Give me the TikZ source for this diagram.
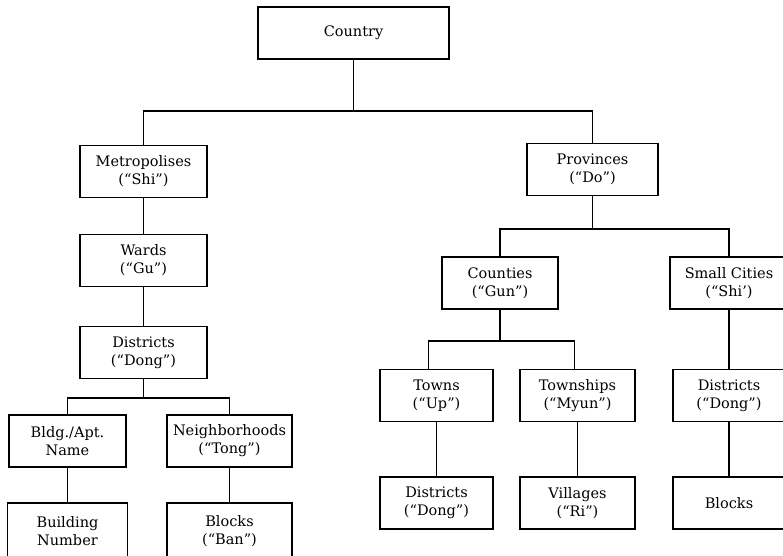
\documentclass[tikz,border=0pt]{standalone}
\usepackage{fontspec}
\setmainfont{DejaVu Serif}
\begin{document}
\begin{tikzpicture}[x=1pt,y=-1pt,
   unit/.style={draw, line width=1.3pt, align=center, inner sep=0pt,
     minimum height=52pt, font=\fontsize{14.5}{18}\selectfont},
   link/.style={line width=1.3pt}]
   \useasboundingbox (0,0) rectangle (783,555);
   \clip (0,0) rectangle (783,555);

   % left branch
   \node[unit, minimum width=191pt] (country) at (353.5,33) {Country};
   \node[unit, minimum width=127pt] (metro) at (143.5,171.5) {Metropolises\\(“Shi”)};
   \node[unit, minimum width=127pt] (wards) at (143.5,260.5) {Wards\\(“Gu”)};
   \node[unit, minimum width=127pt] (distL) at (143.5,352.5) {Districts\\(“Dong”)};
   \node[unit, minimum width=117pt] (bldg) at (67.5,441) {Bldg./Apt.\\Name};
   \node[unit, minimum width=125pt] (neigh) at (229.5,441) {Neighborhoods\\(“Tong”)};
   \node[unit, minimum width=120pt, minimum height=56pt] (bnum) at (67.5,531) {Building\\Number};
   \node[unit, minimum width=125pt, minimum height=56pt] (ban) at (229.5,531) {Blocks\\(“Ban”)};

   % right branch
   \node[unit, minimum width=131pt] (prov) at (592.5,169.5) {Provinces\\(“Do”)};
   \node[unit, minimum width=116pt] (counties) at (500,283) {Counties\\(“Gun”)};
   \node[unit, minimum width=118pt] (small) at (729,283) {Small Cities\\(“Shi’)};
   \node[unit, minimum width=113pt] (towns) at (436.5,395.5) {Towns\\(“Up”)};
   \node[unit, minimum width=115pt] (townships) at (577.5,395.5) {Townships\\(“Myun”)};
   \node[unit, minimum width=112pt] (distR) at (729,395.5) {Districts\\(“Dong”)};
   \node[unit, minimum width=113pt] (distT) at (436.5,503) {Districts\\(“Dong”)};
   \node[unit, minimum width=115pt] (villages) at (577.5,503) {Villages\\(“Ri”)};
   \node[unit, minimum width=112pt] (blocksR) at (729,503) {Blocks};

   % buses
   \coordinate (top) at (353.5,111);
   \coordinate (distbus) at (143.5,398);
   \coordinate (provbus) at (592.5,229);
   \coordinate (cntbus) at (500,341);

   \draw[link] (country) -- (top);
   \draw[link] (metro.north) |- (top) -| (prov.north);
   \draw[link] (metro) -- (wards);
   \draw[link] (wards) -- (distL);
   \draw[link] (distL) -- (distbus);
   \draw[link] (bldg.north) |- (distbus) -| (neigh.north);
   \draw[link] (bldg) -- (bnum);
   \draw[link] (neigh) -- (ban);

   \draw[link] (prov) -- (provbus);
   \draw[link] (counties.north) |- (provbus) -| (small.north);
   \draw[link] (counties) -- (cntbus);
   \draw[link] ([xshift=-8pt]towns.north) |- (cntbus) -| ([xshift=-3pt]townships.north);
   \draw[link] (towns) -- (distT);
   \draw[link] (townships) -- (villages);
   \draw[link] (small) -- (distR);
   \draw[link] (distR) -- (blocksR);
 \end{tikzpicture}
\end{document}
